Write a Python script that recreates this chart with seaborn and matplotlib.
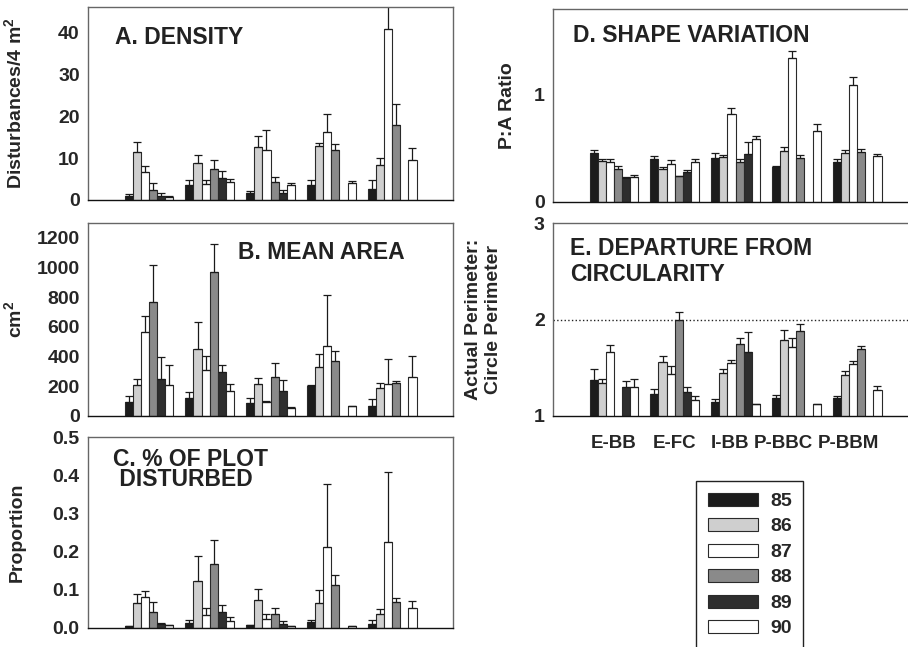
import numpy as np
import pandas as pd
import seaborn as sns
import matplotlib.pyplot as plt
import matplotlib.transforms as mtransforms
from matplotlib.ticker import MultipleLocator

# categorias y años
sites = ['E-BB', 'E-FC', 'I-BB', 'P-BBC', 'P-BBM']
years = ['85', '86', '87', '88', '89', '90']
year_colors = ['#1c1c1c', '#cfcfcf', '#ffffff', '#8a8a8a', '#2e2e2e', '#ffffff']
nan = np.nan

# A. densidad (filas = años, columnas = sitios)
density_mean = [[1.0, 3.5, 1.7, 3.6, 2.6],
                [11.5, 8.7, 12.6, 12.9, 8.3],
                [6.6, 3.9, 11.8, 16.1, 40.7],
                [2.5, 7.3, 4.3, 11.9, 17.8],
                [1.0, 5.2, 1.7, nan, nan],
                [0.6, 4.3, 3.6, 4.1, 9.5]]
density_se = [[0.4, 1.2, 0.5, 1.1, 2.1],
              [2.4, 2.1, 2.7, 0.8, 1.6],
              [1.6, 0.9, 4.8, 4.3, 7.5],
              [1.5, 2.2, 1.3, 1.5, 5.2],
              [0.7, 1.8, 0.6, nan, nan],
              [0.4, 0.7, 0.5, 0.4, 2.8]]

# B. area media
area_mean = [[96, 123, 87, 200, 67],
             [209, 451, 213, 328, 188],
             [565, 312, 92, 473, 215],
             [767, 967, 260, 370, 220],
             [251, 294, 166, nan, nan],
             [209, 170, 54, 65, 262]]
area_se = [[39, 39, 34, 9, 47],
           [42, 184, 40, 89, 34],
           [106, 90, 8, 341, 169],
           [249, 193, 99, 65, 13],
           [144, 47, 74, nan, nan],
           [134, 43, 4, 2, 142]]

# C. proporcion de la parcela
prop_mean = [[0.004, 0.014, 0.007, 0.017, 0.010],
             [0.065, 0.122, 0.072, 0.065, 0.037],
             [0.082, 0.035, 0.024, 0.211, 0.224],
             [0.043, 0.168, 0.037, 0.112, 0.068],
             [0.010, 0.043, 0.011, nan, nan],
             [0.007, 0.019, 0.004, 0.004, 0.052]]
prop_se = [[0.001, 0.007, 0.001, 0.005, 0.011],
           [0.024, 0.066, 0.031, 0.034, 0.014],
           [0.015, 0.017, 0.012, 0.167, 0.185],
           [0.024, 0.063, 0.015, 0.028, 0.010],
           [0.003, 0.016, 0.007, nan, nan],
           [0.002, 0.010, 0.002, 0.002, 0.019]]

# D. relacion P:A
pa_mean = [[0.46, 0.40, 0.41, 0.325, 0.37],
           [0.38, 0.31, 0.42, 0.48, 0.46],
           [0.37, 0.35, 0.82, 1.34, 1.09],
           [0.31, 0.24, 0.37, 0.41, 0.47],
           [0.22, 0.28, 0.45, nan, nan],
           [0.23, 0.37, 0.59, 0.66, 0.43]]
pa_se = [[0.025, 0.03, 0.045, 0.013, 0.03],
         [0.02, 0.02, 0.02, 0.035, 0.028],
         [0.035, 0.045, 0.055, 0.07, 0.075],
         [0.028, 0.005, 0.028, 0.03, 0.02],
         [0.01, 0.02, 0.105, nan, nan],
         [0.025, 0.03, 0.03, 0.07, 0.022]]

# E. perimetro real / perimetro del circulo
circ_mean = [[1.37, 1.23, 1.15, 1.19, 1.19],
             [1.345, 1.56, 1.45, 1.79, 1.43],
             [1.66, 1.44, 1.545, 1.72, 1.54],
             [nan, 1.99, 1.75, 1.88, 1.69],
             [1.30, 1.245, 1.66, nan, nan],
             [1.30, 1.17, 1.12, 1.12, 1.27]]
circ_se = [[0.12, 0.05, 0.025, 0.03, 0.017],
           [0.04, 0.06, 0.04, 0.1, 0.035],
           [0.075, 0.08, 0.04, 0.09, 0.025],
           [nan, 0.09, 0.06, 0.07, 0.04],
           [0.065, 0.06, 0.21, nan, nan],
           [0.085, 0.04, 0.008, 0.008, 0.037]]

sns.set_style('white')
plt.rcParams['font.family'] = ['Liberation Sans', 'DejaVu Sans']
plt.rcParams['font.weight'] = 'bold'
plt.rcParams['mathtext.fontset'] = 'custom'
plt.rcParams['mathtext.bf'] = 'Liberation Sans:bold'
plt.rcParams['mathtext.rm'] = 'Liberation Sans:bold'

W, H = 908, 647
fig = plt.figure(figsize=(W / 100, H / 100), dpi=100)


def panel(px, mean, se, ylim, ylabel, title, title_xy, label_x, linespacing=1.2):
    # px = (izquierda, arriba, ancho, alto) en pixeles
    l, t, w, h = px
    ax = fig.add_axes([l / W, 1 - (t + h) / H, w / W, h / H])
    df = pd.DataFrame({'site': np.tile(sites, len(years)),
                       'year': np.repeat(years, len(sites)),
                       'value': np.ravel(np.array(mean, dtype=float))})
    sns.barplot(data=df, x='site', y='value', hue='year', order=sites,
                hue_order=years, palette=dict(zip(years, year_colors)),
                width=0.8, edgecolor='#2a2a2a', linewidth=0.8,
                errorbar=None, ax=ax, legend=True)

    # barras de error solo hacia arriba (solo las barras reales)
    se_arr = np.array(se, dtype=float)
    bw = 0.8 / len(years)
    xs, ys, es = [], [], []
    for cont in ax.containers:
        for bar in cont:
            xc = bar.get_x() + bar.get_width() / 2
            i = int(round(xc))
            j = int(round((xc - i + 0.4 - bw / 2) / bw))
            xs.append(xc)
            ys.append(bar.get_height())
            es.append(se_arr[j, i])
    ax.errorbar(xs, ys, yerr=[np.zeros(len(es)), es], fmt='none',
                ecolor='#1a1a1a', elinewidth=0.9, capsize=3, capthick=0.9)

    ax.set_xlim(-1, 5)
    ax.set_ylim(*ylim)
    ax.set_xticks(range(-1, 6))
    ax.set_xticklabels([''] * 7)
    ax.set_xlabel('')
    ax.set_ylabel(ylabel, fontsize=14, fontweight='bold')
    ax.yaxis.set_label_coords(label_x, 0.5)
    ax.tick_params(axis='x', direction='out', length=5, width=0.8, color='#111111')
    ax.tick_params(axis='y', which='both', direction='out', length=3, width=0.8,
                   color='#555555', labelsize=14, pad=3)
    for s in ['left', 'top', 'right']:
        ax.spines[s].set_color('#666666')
        ax.spines[s].set_linewidth(1)
    ax.spines['bottom'].set_color('#111111')
    ax.spines['bottom'].set_linewidth(1)
    ax.text(title_xy[0], title_xy[1], title, transform=ax.transAxes,
            fontsize=16.5, fontweight='bold', va='top', ha='left',
            color='#222222', linespacing=linespacing)
    return ax


axA = panel((88, 7, 365, 193), density_mean, density_se, (0, 46),
            r'Disturbances/4 m$^\mathbf{2}$', 'A. DENSITY', (0.074, 0.90), -0.17)
axA.set_yticks([0, 10, 20, 30, 40])

axB = panel((88, 223, 365, 193), area_mean, area_se, (0, 1300),
            r'cm$^\mathbf{2}$', 'B. MEAN AREA', (0.41, 0.905), -0.17)
axB.set_yticks(range(0, 1201, 200))

axC = panel((88, 437, 365, 191), prop_mean, prop_se, (0, 0.5),
            'Proportion', 'C. % OF PLOT\n DISTURBED', (0.068, 0.945), -0.17,
            linespacing=0.85)
axC.set_yticks([0, 0.1, 0.2, 0.3, 0.4, 0.5])
axC.set_yticklabels(['0.0', '0.1', '0.2', '0.3', '0.4', '0.5'])

axD = panel((553, 9, 365, 193), pa_mean, pa_se, (0, 1.8),
            'P:A Ratio', 'D. SHAPE VARIATION', (0.055, 0.92), -0.1)
axD.set_yticks([0, 1])
axD.yaxis.set_minor_locator(MultipleLocator(0.2))

axE = panel((553, 223, 365, 193), circ_mean, circ_se, (1, 3),
            'Actual Perimeter:\nCircle Perimeter', 'E. DEPARTURE FROM\nCIRCULARITY',
            (0.047, 0.93), -0.14)
axE.set_yticks([1, 2, 3])
axE.yaxis.set_minor_locator(MultipleLocator(0.2))
axE.axhline(2, ls=':', color='#222222', lw=1)
axE.set_xticklabels([''] + sites + [''], fontsize=13.5, fontweight='bold')
axE.tick_params(axis='x', pad=9)
# las etiquetas de la derecha van un poco corridas a la izquierda
shifts = [0, 0, 0, -4, -9, -6, 0]
for lab, dx in zip(axE.get_xticklabels(), shifts):
    lab.set_transform(lab.get_transform() +
                      mtransforms.ScaledTranslation(dx / 72, 0, fig.dpi_scale_trans))

# leyenda compartida
handles, labels = axA.get_legend_handles_labels()
for ax in [axA, axB, axC, axD, axE]:
    ax.get_legend().remove()
leg = fig.legend(handles, labels, loc='upper left',
                 bbox_to_anchor=(696 / W, 1 - 481 / H), fontsize=14,
                 frameon=True, fancybox=False, framealpha=1,
                 handlelength=2.6, handleheight=0.65, handletextpad=0.6,
                 labelspacing=0.42, borderpad=0.6, borderaxespad=0)
leg.get_frame().set_edgecolor('#222222')
leg.get_frame().set_linewidth(1)

fig.savefig('out.png', dpi=100)
